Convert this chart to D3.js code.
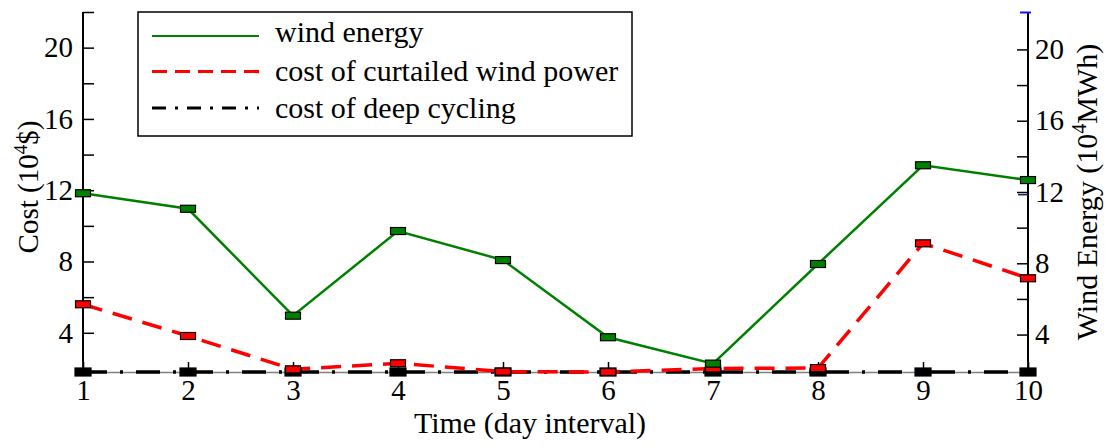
<!DOCTYPE html>
<html><head><meta charset="utf-8">
<script src="https://cdn.jsdelivr.net/npm/d3@7/dist/d3.min.js"></script>
<style>
html,body{margin:0;padding:0;background:#fff;}
svg{display:block;}
text{font-family:"Liberation Serif","Times New Roman",serif;fill:#000;}
</style></head>
<body>
<svg id="chart" width="1107" height="448" font-family="Liberation Serif, Times New Roman, serif"></svg>
<script>
// ---- data ----
const days = [1,2,3,4,5,6,7,8,9,10];
const windEnergy = [11.93, 11.06, 5.06, 9.81, 8.18, 3.85, 2.37, 7.96, 13.5, 12.67];
const curtailCost = [5.60, 3.82, 1.95, 2.29, 1.82, 1.80, 2.00, 2.02, 9.02, 7.06];
const cyclingCost = [1.8, 1.8, 1.8, 1.8, 1.8, 1.8, 1.8, 1.8, 1.8, 1.8];
const majorTicks = [4, 8, 12, 16, 20];
const minorTicks = [6, 10, 14, 18, 22];
const legendLabels = ["wind energy", "cost of curtailed wind power", "cost of deep cycling"];

const svg = d3.select("#chart");
const FS = 29;
const FF = "Liberation Serif, Times New Roman, serif";

const x = d3.scaleLinear().domain([1, 10]).range([83, 1028]);
const yL = d3.scaleLinear().domain([1.8, 22]).range([372, 12]);
const yR = d3.scaleLinear().domain([1.9, 22.1]).range([372, 12]);

// ---- axes ----
function styleAxis(g){
  g.attr("font-family", FF).attr("font-size", FS);
  g.selectAll("text").style("font-family", FF).style("font-size", FS + "px").attr("fill", "#000");
  g.selectAll(".tick line").attr("stroke", "#000").attr("stroke-width", 1.5);
}
// left
const gL = svg.append("g").attr("transform", "translate(83,0)");
gL.call(d3.axisLeft(yL).tickValues(majorTicks).tickSize(-11).tickPadding(10).tickFormat(d3.format("d")))
  .call(styleAxis);
gL.select(".domain").remove();
const gLm = svg.append("g").attr("transform", "translate(83,0)");
gLm.call(d3.axisLeft(yL).tickValues(minorTicks).tickSize(-11).tickFormat(""))
  .call(styleAxis);
gLm.select(".domain").remove();
svg.append("line").attr("x1", 83).attr("x2", 83).attr("y1", yL(22)).attr("y2", 372)
  .attr("stroke", "#000").attr("stroke-width", 2);

// right
const gR = svg.append("g").attr("transform", "translate(1028,0)");
gR.call(d3.axisRight(yR).tickValues(majorTicks).tickSize(-11).tickPadding(7).tickFormat(d3.format("d")))
  .call(styleAxis);
gR.select(".domain").remove();
const gRm = svg.append("g").attr("transform", "translate(1028,0)");
gRm.call(d3.axisRight(yR).tickValues(minorTicks.slice(0, 4)).tickSize(-11).tickFormat(""))
  .call(styleAxis);
gRm.select(".domain").remove();
svg.append("line").attr("x1", 1028).attr("x2", 1028).attr("y1", 12).attr("y2", 372)
  .attr("stroke", "#000").attr("stroke-width", 2);
svg.append("line").attr("x1", 1020).attr("x2", 1031).attr("y1", 12.5).attr("y2", 12.5)
  .attr("stroke", "#1010ff").attr("stroke-width", 2);
svg.append("line").attr("x1", 1018).attr("x2", 1028).attr("y1", yR(11.85)).attr("y2", yR(11.85))
  .attr("stroke", "#102060").attr("stroke-width", 1.5);

// bottom
const gB = svg.append("g").attr("transform", "translate(0,372)");
gB.call(d3.axisBottom(x).tickValues(days).tickSize(-10).tickPadding(7).tickFormat(d3.format("d")))
  .call(styleAxis);
gB.select(".domain").attr("stroke", "#808080").attr("stroke-width", 1.5);

// ---- axis titles ----
const tl = svg.append("text").attr("transform", "translate(38,187) rotate(-90)")
  .attr("text-anchor", "middle").style("font-size", FS + "px");
tl.append("tspan").text("Cost (10");
tl.append("tspan").text("4").style("font-size", "19px").attr("dy", -11);
tl.append("tspan").text("$)").attr("dy", 11);

const tr = svg.append("text").attr("transform", "translate(1097,192) rotate(-90)")
  .attr("text-anchor", "middle").style("font-size", "30px");
tr.append("tspan").text("Wind Energy (10");
tr.append("tspan").text("4").style("font-size", "20px").attr("dy", -11);
tr.append("tspan").text("MWh)").attr("dy", 11);

svg.append("text").attr("x", 530).attr("y", 433).attr("text-anchor", "middle")
  .style("font-size", "30px").text("Time (day interval)");

// ---- series ----
const lineL = d3.line().x((d, i) => x(days[i])).y(d => yL(d));
const lineR = d3.line().x((d, i) => x(days[i])).y(d => yR(d));

svg.append("path").datum(cyclingCost).attr("d", lineL).attr("fill", "none")
  .attr("stroke", "#000").attr("stroke-width", 3.5).attr("stroke-dasharray", "24,13,3,13");
svg.append("path").datum(curtailCost).attr("d", lineL).attr("fill", "none")
  .attr("stroke", "#ff0000").attr("stroke-width", 3.5).attr("stroke-dasharray", "20,11");
svg.append("path").datum(windEnergy).attr("d", lineR).attr("fill", "none")
  .attr("stroke", "#008000").attr("stroke-width", 2.5);

function markers(data, scale, fill, w, h){
  svg.append("g").selectAll("rect").data(data).join("rect")
    .attr("x", (d, i) => x(days[i]) - w / 2)
    .attr("y", d => scale(d) - h / 2)
    .attr("width", w).attr("height", h)
    .attr("fill", fill).attr("stroke", "#000").attr("stroke-width", 1.2);
}
markers(cyclingCost, yL, "#000", 16, 8);
markers(curtailCost, yL, "#ff0000", 15, 7);
markers(windEnergy, yR, "#008000", 15, 7);

// ---- legend ----
const lg = svg.append("g");
lg.append("rect").attr("x", 138).attr("y", 12).attr("width", 494).attr("height", 124)
  .attr("fill", "#fff").attr("stroke", "#000").attr("stroke-width", 1.5);
const legStyles = [
  {c: "#008000", w: 2.2, d: null, y: 36},
  {c: "#ff0000", w: 3.2, d: "15,8", y: 71.5},
  {c: "#000", w: 3.2, d: "14,9,3,9", y: 108}
];
legendLabels.forEach((lab, i) => {
  const s = legStyles[i];
  const ln = lg.append("line").attr("x1", 152).attr("x2", 259).attr("y1", s.y).attr("y2", s.y)
    .attr("stroke", s.c).attr("stroke-width", s.w);
  if (s.d) ln.attr("stroke-dasharray", s.d);
  lg.append("text").attr("x", 275).attr("y", s.y + 6.5 + (i === 0 ? -0.5 : 3)).style("font-size", "30px").text(lab);
});
</script>
</body></html>
